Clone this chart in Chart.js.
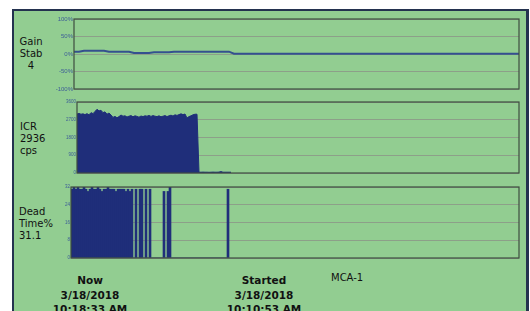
<!DOCTYPE html>
<html>
<head>
<meta charset="utf-8">
<script src="https://cdn.jsdelivr.net/npm/chart.js@4.4.1/dist/chart.umd.min.js"></script>
<style>
  html, body { margin: 0; background: #fff; width: 530px; height: 311px; overflow: hidden; }
  body { position: relative; font-family: "DejaVu Sans", sans-serif; }
  #panel { position: absolute; left: 12px; top: 9px; width: 512px; height: 340px; background: #92cd91; border: 2px solid #24324f; border-right-width: 3px; }
  canvas { position: absolute; }
  .lbl { position: absolute; font-size: 10px; line-height: 11.8px; color: #111; white-space: pre; }
  .stamp { position: absolute; font-size: 10.5px; line-height: 14.5px; font-weight: bold; color: #111; text-align: center; width: 120px; white-space: pre; }
</style>
</head>
<body>
<div id="panel"></div>
<div class="lbl" style="left:18px;top:36px;text-align:center;width:26px">Gain
Stab
4</div>
<div class="lbl" style="left:20px;top:121px">ICR
2936
cps</div>
<div class="lbl" style="left:19px;top:206px">Dead
Time%
31.1</div>
<div class="stamp" style="left:30px;top:273px">Now
3/18/2018
10:18:33 AM</div>
<div class="stamp" style="left:204px;top:273px">Started
3/18/2018
10:10:53 AM</div>
<div class="lbl" style="left:331px;top:272px">MCA-1</div>

<canvas id="gainChart" style="left:40px;top:10px" width="482" height="85"></canvas>
<canvas id="icrChart" style="left:40px;top:95px" width="482" height="84"></canvas>
<canvas id="deadChart" style="left:40px;top:180px" width="482" height="84"></canvas>

<script>
// --------------------------- DATA ---------------------------

// gain stabilisation, % (one sample every 5 px of the strip)
const gainValues = [
    6.6, 6.6, 9.5, 9.5, 9.5, 9.5, 9.5, 6.6, 6.6, 6.6,
    6.6, 6.6, 2.9, 2.9, 2.9, 2.9, 4.8, 4.8, 4.8, 4.8,
    6.6, 6.6, 6.6, 6.6, 6.6, 6.6, 6.6, 6.6, 6.6, 6.6,
    6.6, 6.6, 1.0, 1.0, 1.0, 1.0, 1.0, 1.0, 1.0, 1.0,
    1.0, 1.0, 1.0, 1.0, 1.0, 1.0, 1.0, 1.0, 1.0, 1.0,
    1.0, 1.0, 1.0, 1.0, 1.0, 1.0, 1.0, 1.0, 1.0, 1.0,
    1.0, 1.0, 1.0, 1.0, 1.0, 1.0, 1.0, 1.0, 1.0, 1.0,
    1.0, 1.0, 1.0, 1.0, 1.0, 1.0, 1.0, 1.0, 1.0, 1.0,
    1.0, 1.0, 1.0, 1.0, 1.0, 1.0, 1.0, 1.0, 1.0, 1.0
];
const gainTicks = ['-100%', '-50%', '0%', '50%', '100%'];

// input count rate, cps
const icrValues = [
    2990, 3020, 2980, 3000, 2960, 3010, 2950, 3060, 3010, 3120,
    3230, 3150, 3180, 3060, 3100, 2980, 3040, 2940, 2820, 2870,
    2800, 2860, 2940, 2880, 2900, 2840, 2880, 2910, 2850, 2900,
    2870, 2830, 2890, 2860, 2900, 2880, 2920, 2870, 2910, 2880,
    2860, 2900, 2850, 2880, 2910, 2860, 2900, 2930, 2890, 2950,
    2920, 2960, 3000, 2960, 2990, 2790, 2860, 2900, 2950, 2980,
    2980, 40, 40, 45, 40, 40, 35, 40, 45, 40,
    40, 45, 70, 40, 40, 40, 40, 40
];
const icrSlots = 222;

// dead time, %
const deadValues = [
    31, 32, 31, 32, 31, 31, 32, 31, 30, 31,
    32, 31, 31, 32, 31, 30, 31, 31, 32, 31,
    31, 31, 30, 31, 31, 31, 31, 30, 31, 30,
    31, 0, 31, 0, 31, 31, 0, 31, 0, 31,
    0, 0, 0, 0, 0, 0, 30, 0, 30, 32,
    0, 0, 0, 0, 0, 0, 0, 0, 0, 0,
    0, 0, 0, 0, 0, 0, 0, 0, 0, 0,
    0, 0, 0, 0, 0, 0, 0, 0, 31
];
const deadSlots = 224;

// --------------------------- CHART RELATED ---------------------------

const navy = '#1f2e7a';
const tickColor = '#3d5c97';
const gridColor = '#8d9f89';

// dark frame round the plot area
const framePlugin = {
    id: 'frame',
    afterDraw(chart) {
        const a = chart.chartArea;
        const ctx = chart.ctx;
        ctx.save();
        ctx.strokeStyle = '#3e4d40';
        ctx.lineWidth = 1.2;
        ctx.strokeRect(a.left, a.top, a.right - a.left, a.bottom - a.top);
        ctx.restore();
    }
};

const yScale = (min, max, step, axisWidth, fontSize, fmt) => ({
    min: min, max: max,
    afterFit: (scale) => { scale.width = axisWidth; },
    ticks: { stepSize: step, padding: 1, color: tickColor, font: { family: 'Liberation Sans', size: fontSize }, callback: fmt },
    grid: { color: gridColor, lineWidth: 1, drawTicks: false },
    border: { display: false }
});

const xHidden = { display: false, grid: { display: false } };

const baseOptions = (padding) => ({
    responsive: false,
    animation: false,
    events: [],
    layout: { padding: padding },
    plugins: { legend: { display: false }, tooltip: { enabled: false } }
});

new Chart(document.querySelector('#gainChart'), {
    type: 'line',
    data: {
        labels: gainValues.map((_, i) => i),
        datasets: [{ data: gainValues, borderColor: '#34508f', borderWidth: 2, pointRadius: 0, tension: 0 }]
    },
    options: {
        ...baseOptions({ top: 9, bottom: 6, left: 0, right: 3 }),
        scales: {
            x: xHidden,
            y: yScale(-100, 100, 50, 34, 6, (v) => gainTicks[(v + 100) / 50])
        }
    },
    plugins: [framePlugin]
});

new Chart(document.querySelector('#icrChart'), {
    type: 'line',
    data: {
        labels: Array.from({ length: icrSlots }, (_, i) => i),
        datasets: [{ data: icrValues, borderColor: navy, borderWidth: 1, backgroundColor: navy, fill: 'origin', pointRadius: 0, tension: 0 }]
    },
    options: {
        ...baseOptions({ top: 7, bottom: 6, left: 0, right: 3 }),
        scales: {
            x: xHidden,
            y: yScale(0, 3600, 900, 37, 4.5)
        }
    },
    plugins: [framePlugin]
});

new Chart(document.querySelector('#deadChart'), {
    type: 'bar',
    data: {
        labels: Array.from({ length: deadSlots }, (_, i) => i),
        datasets: [{ data: deadValues, backgroundColor: navy, borderWidth: 0, barPercentage: 1, categoryPercentage: 1 }]
    },
    options: {
        ...baseOptions({ top: 7, bottom: 6, left: 0, right: 3 }),
        scales: {
            x: xHidden,
            y: yScale(0, 32, 8, 31, 4.5)
        }
    },
    plugins: [framePlugin]
});
</script>
</body>
</html>
